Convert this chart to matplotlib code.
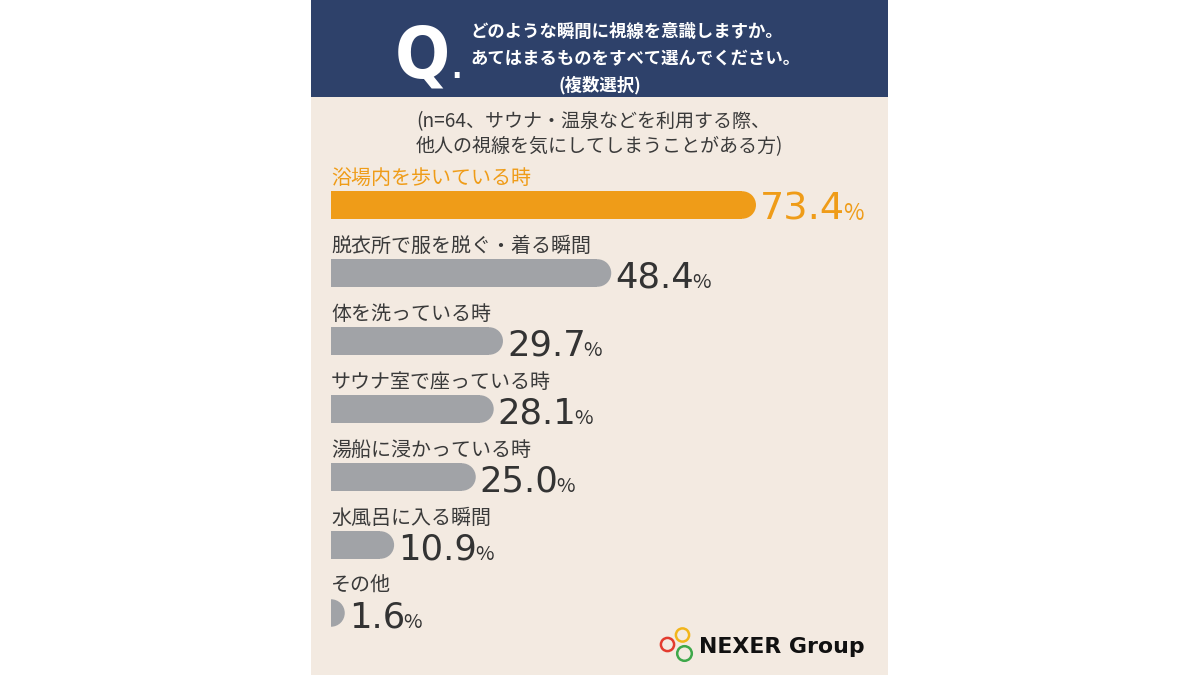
import matplotlib
matplotlib.use('Agg')
import matplotlib.pyplot as plt
from matplotlib.patches import Rectangle, Ellipse, Circle
from matplotlib import font_manager
import matplotlib.transforms as mtransforms

# ---------------- data ----------------
categories = ["浴場内を歩いている時", "脱衣所で服を脱ぐ・着る瞬間", "体を洗っている時",
              "サウナ室で座っている時", "湯船に浸かっている時", "水風呂に入る瞬間", "その他"]
values = [73.4, 48.4, 29.7, 28.1, 25.0, 10.9, 1.6]
value_labels = ["73.4", "48.4", "29.7", "28.1", "25.0", "10.9", "1.6"]
highlight_index = 0
question_lines = ["どのような瞬間に視線を意識しますか。", "あてはまるものをすべて選んでください。"]
question_note = "(複数選択)"
subtitle_lines = ["(n=64、サウナ・温泉などを利用する際、", "他人の視線を気にしてしまうことがある方)"]
brand = "NEXER Group"

# ---------------- style ----------------
NAVY = "#2E416A"
BEIGE = "#F3EAE1"
ORANGE = "#EF9C18"
GRAY = "#A1A3A7"
TEXT = "#3A3A3A"
VAL = "#333333"

plt.rcParams['font.family'] = ['Noto Sans CJK JP', 'DejaVu Sans']

# find a condensed/narrow bold font for the big "Q"
q_prop = None
for f in font_manager.fontManager.ttflist:
    nm = f.name.lower()
    if ('narrow' in nm or 'condensed' in nm or f.stretch in ('condensed', 'semi-condensed', 'extra-condensed')) \
            and f.weight in (600, 700, 'bold', 'semibold', 'demibold'):
        q_prop = font_manager.FontProperties(fname=f.fname)
        break
if q_prop is None:
    q_prop = font_manager.FontProperties(family=['Noto Sans CJK JP', 'DejaVu Sans'], weight='bold')
    q_size = 42
else:
    q_size = 52

W, H = 1200, 675
fig = plt.figure(figsize=(12, 6.75), dpi=100)
fig.patch.set_facecolor('white')

deco = fig.add_axes([0, 0, 1, 1])
deco.set_xlim(0, W)
deco.set_ylim(H, 0)
deco.axis('off')
deco.add_patch(Rectangle((311, 0), 577, 675, color=BEIGE, lw=0))
deco.add_patch(Rectangle((311, 0), 577, 97, color=NAVY, lw=0))

# header
deco.text(450, 77, "Q", fontproperties=q_prop, fontsize=q_size, color='white',
          va='baseline', ha='right')
deco.text(451, 77.5, ".", fontproperties=q_prop, fontsize=22, color='white',
          va='baseline', ha='left')
deco.text(470, 32, question_lines[0], fontsize=12.5, weight='bold', color='white', va='center', ha='left')
deco.text(470, 59, question_lines[1], fontsize=12.5, weight='bold', color='white', va='center', ha='left')
deco.text(600, 85, question_note, fontsize=12.5, weight='bold', color='white', va='center', ha='center')

# subtitle
deco.text(416, 122, subtitle_lines[0], fontsize=13.7, color=TEXT, va='center', ha='left')
deco.text(416, 147, subtitle_lines[1], fontsize=13.7, color=TEXT, va='center', ha='left')

# logo
lw_pt = 2.5 * 72 / 100
deco.add_patch(Circle((682.5, 635), 6.6, fill=False, lw=lw_pt, edgecolor="#F2B51B"))
deco.add_patch(Circle((667.5, 644.5), 6.6, fill=False, lw=lw_pt, edgecolor="#E33B2E"))
deco.add_patch(Circle((684.5, 653.5), 7.3, fill=False, lw=lw_pt, edgecolor="#3EA84A"))
deco.text(699, 653, brand, fontsize=15.8, weight='bold', color='#111111',
          family=['DejaVu Sans'], va='baseline', ha='left')

# ---------------- bars ----------------
PX_PER = 5.79          # pixels per percent
AX_LEFT, AX_W = 331, 549
ax = fig.add_axes([AX_LEFT / W, 0, AX_W / W, 1])
ax.set_xlim(0, AX_W / PX_PER)
ax.set_ylim(H, 0)
ax.axis('off')
ax.patch.set_alpha(0)

BAR_H = 27.5
r = (BAR_H / 2) / PX_PER
y0, step = 205, 68
ys = [y0 + step * i for i in range(len(values))]
colors = [ORANGE if i == highlight_index else GRAY for i in range(len(values))]

ax.barh(ys, [max(v - r, 0) for v in values], height=BAR_H, left=0, color=colors, lw=0)
for y, v, c in zip(ys, values, colors):
    ax.add_patch(Ellipse((max(v - r, 0), y), 2 * r, BAR_H, color=c, lw=0))

for i, (y, cat) in enumerate(zip(ys, categories)):
    ax.text(0, y - 27, cat, fontsize=14.4, color=ORANGE if i == highlight_index else TEXT,
            va='center', ha='left', clip_on=False)

off = mtransforms.offset_copy(ax.transData, fig=fig, x=4, y=0, units='dots')
num_texts = []
for i, (y, v, lab) in enumerate(zip(ys, values, value_labels)):
    hl = i == highlight_index
    t = ax.text(max(v, r), y + 14.5, lab, transform=off, fontsize=27.5 if hl else 25.5,
                color=ORANGE if hl else VAL, family=['DejaVu Sans'],
                va='baseline', ha='left', clip_on=False)
    num_texts.append((t, y, hl))

fig.canvas.draw()
renderer = fig.canvas.get_renderer()
for t, y, hl in num_texts:
    bb = t.get_window_extent(renderer)
    xd = ax.transData.inverted().transform((bb.x1 - 2, 0))[0]
    ax.text(xd, y + 14.5, "%", fontsize=16 if hl else 14.5,
            color=ORANGE if hl else VAL, family=['Noto Sans CJK JP', 'DejaVu Sans'],
            va='baseline', ha='left', clip_on=False)

fig.savefig("out.png", dpi=100, facecolor='white')
